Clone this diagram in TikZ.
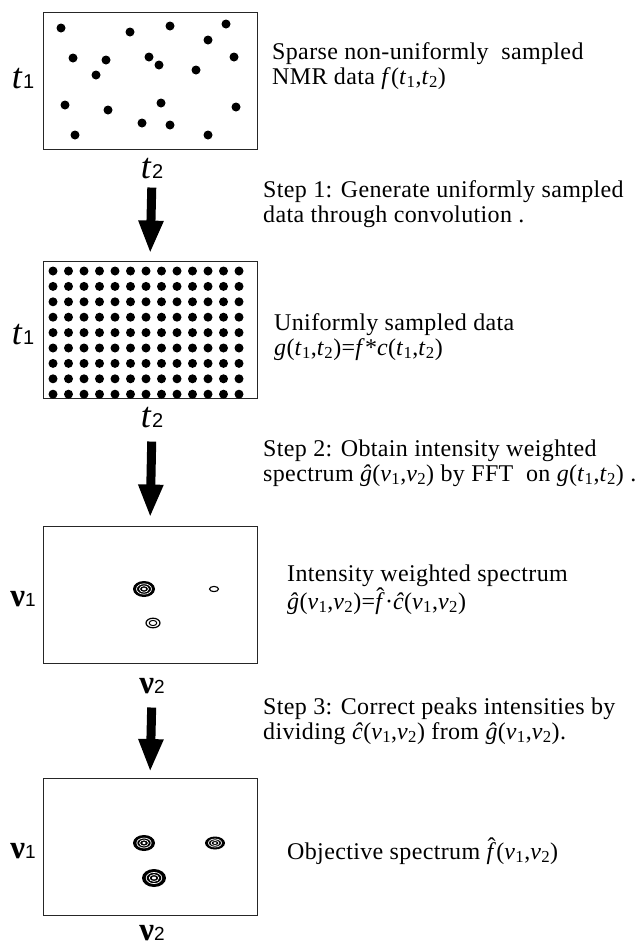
\documentclass[tikz,border=0pt]{standalone}
\usepackage{fontspec}
\setmainfont{Liberation Serif}[LetterSpace=1.5]
\newfontfamily\axsans{Liberation Sans}
\usetikzlibrary{arrows.meta}

\newcommand{\idx}[1]{\textsubscript{\upshape#1}}
\newcommand{\tpair}{(\textit{t}\idx{1},\textit{t}\idx{2})}
\newcommand{\nupair}{(\textit{ν}\idx{1},\textit{ν}\idx{2})}
\newcommand{\fhat}{\textit{f}\llap{\raisebox{0.2em}{\char"02C6}\kern0.03em}}
\newcommand{\axt}[1]{{\fontsize{36}{36}\selectfont\textit{t}}{\axsans\fontsize{20}{20}\selectfont #1}}
\newcommand{\axnu}[1]{{\fontsize{33}{33}\selectfont\bfseries ν}{\axsans\fontsize{19}{19}\selectfont #1}}

\begin{document}
\begin{tikzpicture}[x=1pt, y=-1pt,
    panel/.style={draw=black!85, line width=0.9pt, minimum width=214pt, minimum height=137pt, inner sep=0pt},
    axlabel/.style={inner sep=0pt, anchor=base},
    note/.style={inner sep=0pt, anchor=base west, align=left, font=\fontsize{24}{25}\selectfont},
    bigarrow/.style={line width=9pt, -{Triangle[width=23pt, length=33pt]}}]
    \useasboundingbox (0,0) rectangle (635,945);

    % panels
    \node[panel] (sparse) at (150,80.5) {};
    \node[panel] (uniform) at (150,329.5) {};
    \node[panel] (weighted) at (150,594.5) {};
    \node[panel] (objective) at (150,847) {};

    % axis labels
    \node[axlabel] (t1a) at (23,88) {\axt{1}};
    \node[axlabel] (t2a) at (152,178) {\axt{2}};
    \node[axlabel] (t1b) at (23,344) {\axt{1}};
    \node[axlabel] (t2b) at (152,427) {\axt{2}};
    \node[axlabel] (v1c) at (23,606) {\axnu{1}};
    \node[axlabel] (v2c) at (152,693) {\axnu{2}};
    \node[axlabel] (v1d) at (23,858) {\axnu{1}};
    \node[axlabel] (v2d) at (152,940) {\axnu{2}};

    % texts
    \node[note] (sparsetext) at (272,84) {Sparse non-uniformly\ \ sampled\\NMR data \textit{f}\tpair};
    \node[note] (step1) at (263,222) {Step 1: Generate uniformly sampled\\data through convolution .};
    \node[note] (uniformtext) at (274,355) {Uniformly sampled data\\\textit{g}\tpair=\textit{f}*\textit{c}\tpair};
    \node[note] (step2) at (263,481) {Step 2: Obtain intensity weighted\\spectrum \textit{\^{g}}\nupair\ by FFT\ \ on \textit{g}\tpair\ .};
    \node[note] (weightedtext) at (287,609) {Intensity weighted spectrum\\\textit{\^{g}}\nupair=\fhat·\textit{\^{c}}\nupair};
    \node[note] (step3) at (263,739) {Step 3: Correct peaks intensities by\\dividing \textit{\^{c}}\nupair\ from \textit{\^{g}}\nupair.};
    \node[note] (objectivetext) at (287,859) {Objective spectrum \fhat\nupair};

    % arrows
    \draw[bigarrow, shorten <=9pt, shorten >=7pt] (t2a.south) -- (uniform.north);
    \draw[bigarrow, shorten <=14pt, shorten >=8pt] (t2b.south) -- (weighted.north);
    \draw[bigarrow, shorten <=14pt, shorten >=6pt] (v2c.south) -- (objective.north);

    % sparse samples
    \foreach \px/\py in {61/28, 130/32, 170/26, 226/24, 208/40, 73/58, 106/60, 149/57,
        159/65, 196/70, 234/57, 96/75, 65/105, 108/110, 161/103, 236/107, 142/123,
        170/125, 75/135, 208/135}
        \fill (\px,\py) circle (4.5);

    % uniform grid
    \foreach \i in {0,...,12}
        \foreach \j in {0,...,8}
            \fill (53+15.5*\i, 271+15.4*\j) circle (4.5);

    % weighted spectrum peaks
    \fill (144,589) ellipse [x radius=11, y radius=8];
    \draw[white, line width=0.7pt] (144,589) ellipse [x radius=7.5, y radius=5.2];
    \draw[white, line width=0.7pt] (144,589) ellipse [x radius=4.5, y radius=3.2];
    \fill[white] (144,589) ellipse [x radius=2, y radius=1.3];
    \draw[line width=1.1pt] (214,589) ellipse [x radius=4.5, y radius=2.6];
    \draw[line width=1.2pt] (153,623) ellipse [x radius=7, y radius=4.8];
    \draw[line width=1pt] (153,623) ellipse [x radius=3.8, y radius=2.6];

    % objective spectrum peaks
    \foreach \cx/\cy/\rx/\ry in {144/843/11/8, 215/843/10/6.5, 154/878/12/9} {
        \fill (\cx,\cy) ellipse [x radius=\rx, y radius=\ry];
        \draw[white, line width=0.7pt] (\cx,\cy) ellipse [x radius=0.65*\rx, y radius=0.62*\ry];
        \draw[white, line width=0.7pt] (\cx,\cy) ellipse [x radius=0.4*\rx, y radius=0.38*\ry];
        \fill[white] (\cx,\cy) ellipse [x radius=0.18*\rx, y radius=0.16*\ry];
    }
\end{tikzpicture}
\end{document}
